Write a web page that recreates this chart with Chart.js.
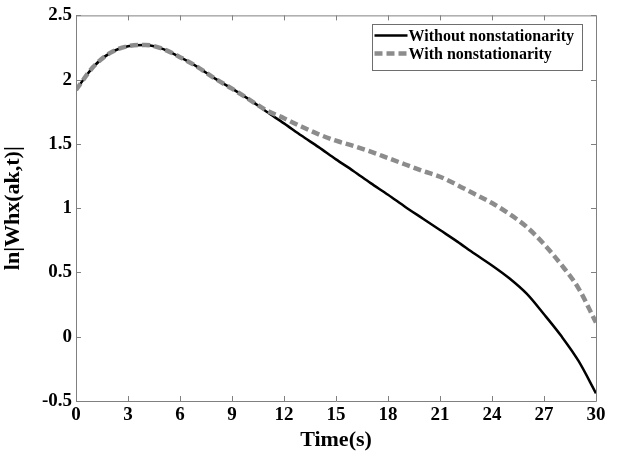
<!DOCTYPE html>
<html>
<head>
<meta charset="utf-8">
<script src="https://cdn.jsdelivr.net/npm/chart.js@4/dist/chart.umd.min.js"></script>
<style>
html,body{margin:0;padding:0;background:#fff;}
#wrap{width:625px;height:454px;position:relative;}
</style>
</head>
<body>
<div id="wrap"><canvas id="c" width="625" height="454"></canvas></div>
<script>
const times = [0,1,2,3,4,5,6,7,8,9,10,11,12,13,14,15,16,17,18,19,20,21,22,23,24,25,26,27,28,29,30];
const withoutNonstat = [1.92,2.10,2.21,2.26,2.27,2.24,2.175,2.10,2.01,1.93,1.845,1.75,1.66,1.565,1.475,1.38,1.29,1.195,1.105,1.01,0.92,0.83,0.74,0.645,0.555,0.455,0.335,0.175,0.005,-0.19,-0.44];
const withNonstat = [1.92,2.10,2.21,2.26,2.27,2.24,2.175,2.10,2.01,1.93,1.845,1.76,1.70,1.635,1.575,1.525,1.485,1.44,1.39,1.34,1.29,1.245,1.18,1.11,1.04,0.955,0.855,0.72,0.56,0.375,0.11];
const xTicks = [0,3,6,9,12,15,18,21,24,27,30];
const yTicks = [-0.5,0,0.5,1,1.5,2,2.5];
const seriesNames = ['Without nonstationarity','With nonstationarity'];

const AXIS = '#808080';
const FONT = '"Liberation Serif", "Times New Roman", serif';

const boxTicks = {
  id:'boxTicks',
  afterDatasetsDraw(chart){
    const {ctx, chartArea:a, scales:{x,y}} = chart;
    ctx.save();
    ctx.strokeStyle = AXIS; ctx.lineWidth = 1;
    ctx.beginPath();
    ctx.rect(a.left+0.5, a.top+0.5, a.right-a.left, a.bottom-a.top);
    const L = 5;
    xTicks.forEach(v=>{const px=Math.round(x.getPixelForValue(v))+0.5;
      ctx.moveTo(px,a.bottom); ctx.lineTo(px,a.bottom-L);
      ctx.moveTo(px,a.top); ctx.lineTo(px,a.top+L);});
    yTicks.forEach(v=>{const py=Math.round(y.getPixelForValue(v))+0.5;
      ctx.moveTo(a.left,py); ctx.lineTo(a.left+L,py);
      ctx.moveTo(a.right,py); ctx.lineTo(a.right-L,py);});
    ctx.stroke();
    // legend
    const lx=372.5, ly=24.5, lw=210, lh=46;
    ctx.fillStyle='#fff'; ctx.fillRect(lx,ly,lw,lh);
    ctx.strokeStyle='#6e6e6e'; ctx.strokeRect(lx,ly,lw,lh);
    ctx.font = 'bold 16px '+FONT; ctx.textBaseline='middle'; ctx.fillStyle='#000';
    const ds = chart.data.datasets;
    [0,1].forEach(i=>{
      const d = ds[i]; const yy = ly + 11 + i*18;
      ctx.beginPath(); ctx.strokeStyle=d.borderColor; ctx.lineWidth=d.borderWidth;
      ctx.setLineDash(d.borderDash||[]);
      ctx.moveTo(lx+2,yy); ctx.lineTo(lx+35,yy); ctx.stroke();
      ctx.setLineDash([]);
      ctx.fillText(d.label, lx+36, yy+1);
    });
    ctx.restore();
  }
};

new Chart(document.getElementById('c'), {
  type:'line',
  data:{
    datasets:[
      {label:seriesNames[0], data:times.map((t,i)=>({x:t,y:withoutNonstat[i]})),
       borderColor:'#000', borderWidth:2.5, pointRadius:0, cubicInterpolationMode:'monotone', order:2, fill:false},
      {label:seriesNames[1], data:times.map((t,i)=>({x:t,y:withNonstat[i]})),
       borderColor:'#8c8c8c', borderWidth:4.5, borderDash:[8,4], pointRadius:0, cubicInterpolationMode:'monotone', order:1, fill:false}
    ]
  },
  options:{
    responsive:false, animation:false, devicePixelRatio:1,
    layout:{padding:{top:11,right:29,left:0,bottom:0}},
    plugins:{legend:{display:false}, tooltip:{enabled:false}},
    scales:{
      x:{type:'linear', min:0, max:30,
        afterBuildTicks(s){s.ticks = xTicks.map(v=>({value:v}));},
        afterFit(s){s.height=53;},
        grid:{display:false, drawTicks:false},
        border:{display:false},
        ticks:{color:'#000', font:{family:FONT, size:19, weight:'bold'}, padding:3, maxRotation:0, autoSkip:false},
        title:{display:true, text:'Time(s)', color:'#000', font:{family:FONT, size:22, weight:'bold'}, padding:{top:0,bottom:0}}
      },
      y:{type:'linear', min:-0.5, max:2.5,
        afterBuildTicks(s){s.ticks = yTicks.map(v=>({value:v}));},
        afterFit(s){s.width=76;},
        grid:{display:false, drawTicks:false},
        border:{display:false},
        ticks:{color:'#000', font:{family:FONT, size:19, weight:'bold'}, padding:4, autoSkip:false,
          callback:v=>String(v)},
        title:{display:true, text:'ln|Whx(ak,t)|', color:'#000', font:{family:FONT, size:22, weight:'bold'}, padding:{top:0,bottom:0}}
      }
    }
  },
  plugins:[boxTicks]
});
</script>
</body>
</html>
